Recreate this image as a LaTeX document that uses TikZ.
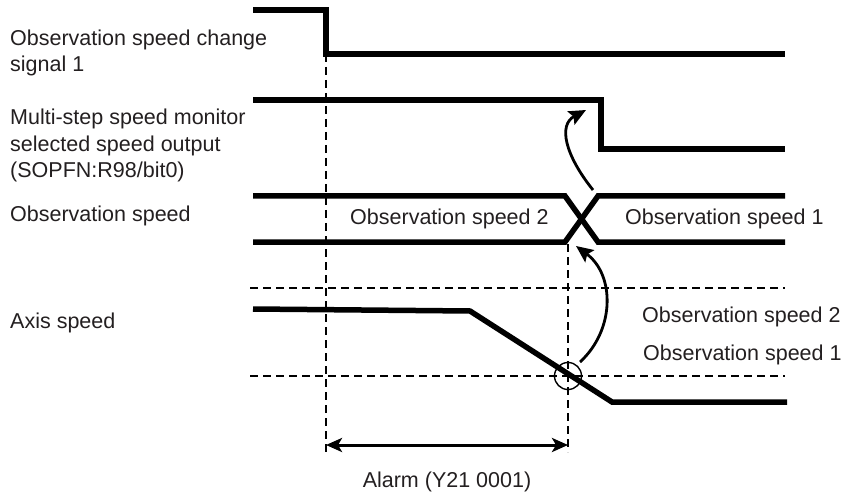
\documentclass[tikz,border=0pt]{standalone}
\usepackage{fontspec}
\setmainfont{Liberation Sans}
\usepackage{tikz}
\usetikzlibrary{arrows.meta,calc}
\definecolor{labelgray}{RGB}{35,31,32}

\begin{document}
\begin{tikzpicture}[x=1pt,y=-1pt,
    signal/.style={line width=5.5pt,line join=miter},
    guide/.style={line width=2.8pt,dash pattern=on 8pt off 5pt},
    cause/.style={->,line width=2.8pt,>={Stealth[length=17pt,width=15pt,inset=3pt]}},
    lbl/.style={font=\fontsize{21.5}{26.5}\selectfont,text=labelgray,inner sep=0pt,align=left}]
  \useasboundingbox (0,0) rectangle (842,494);
  % signal names
  \node[lbl,anchor=base west] (Nchg) at (10,72) {Observation speed change\\signal 1};
  \node[lbl,anchor=base west] (Nsel) at (10,178) {Multi-step speed monitor\\selected speed output\\(SOPFN:R98/bit0)};
  \node[lbl,anchor=base west] (Nobs) at (10,222) {Observation speed};
  \node[lbl,anchor=base west] (Naxis) at (10,328) {Axis speed};
  % waveforms
  \draw[signal] (253,10) -- (326,10) -- (326,54) -- (785,54);
  \draw[signal] (253,100) -- (601,100) -- (601,149) -- (785,149);
  \draw[signal] (253,196) -- (565,196) -- (598,242) -- (785,242);
  \draw[signal] (253,242) -- (565,242) -- (598,196) -- (785,196);
  \draw[signal] (253,309) -- (470,311) -- (612,402) -- (787,402);
  \node[lbl,anchor=base west] (Vobs2) at (350,225) {Observation speed 2};
  \node[lbl,anchor=base west] (Vobs1) at (625,225) {Observation speed 1};
  % speed levels
  \draw[guide] (250,288) -- (785,288);
  \draw[guide] (250,376) -- (785,376);
  \node[lbl,anchor=base west] (Lobs2) at (642,322) {Observation speed 2};
  \node[lbl,anchor=base west] (Lobs1) at (643,360) {Observation speed 1};
  % timing marks
  \coordinate (T0) at (326,54);
  \coordinate (T1) at (568,244);
  \coordinate (A0) at (326,445);
  \coordinate (A1) at (568,445);
  \draw[guide] (T0) -- (326,452);
  \draw[guide] (T1) -- (568,452);
  \node[circle,draw,line width=1.4pt,minimum size=27pt,inner sep=0pt] (hit) at (568,376) {};
  \coordinate (X0) at (593,190);
  \coordinate (X1) at (586,110);
  \coordinate (H0) at (580,362);
  \coordinate (H1) at (576,246);
  \draw[cause] (X0) .. controls (565,155) and (558,125) .. (X1);
  \draw[cause] (H0) .. controls (615,330) and (615,275) .. (H1);
  \path[<->,line width=3pt,>={Stealth[length=16pt,width=14pt,inset=4pt]}]
    (A0) edge (A1);
  \node[lbl,anchor=base] (alarm) at (447,487) {Alarm (Y21 0001)};
\end{tikzpicture}
\end{document}
